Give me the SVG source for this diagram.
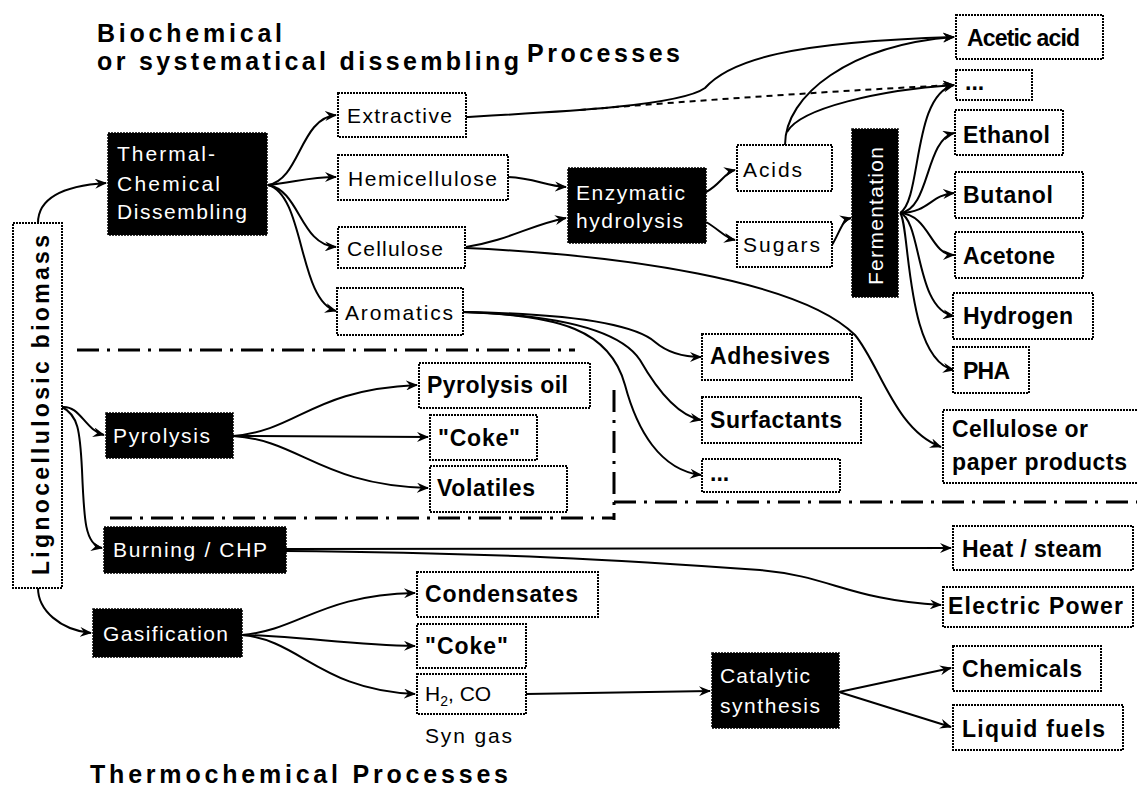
<svg xmlns="http://www.w3.org/2000/svg" width="1137" height="786" viewBox="0 0 1137 786">
<style>
text{font-family:"Liberation Sans",Arial,sans-serif;fill:#000}
.r{font-size:21px}
.b{font-size:23px;font-weight:bold}
.h{font-size:25px;font-weight:bold}
.w{fill:#fff}
.box{fill:#fff;stroke:#000;stroke-width:2;stroke-dasharray:2 1}
.blk{fill:#000;stroke:#000;stroke-width:1.5;stroke-dasharray:2 1}
.c{fill:none;stroke:#000;stroke-width:2;marker-end:url(#ah)}
.d{fill:none;stroke:#000;stroke-width:2;stroke-dasharray:6 5;marker-end:url(#ah)}
.dd{fill:none;stroke:#000;stroke-width:3;stroke-dasharray:22 8 3 8}
</style>
<defs>
<marker id="ah" viewBox="0 0 12 10" refX="11" refY="5" markerWidth="12" markerHeight="10" markerUnits="userSpaceOnUse" orient="auto">
<path d="M0,0 L12,5 L0,10 L4,5 z" fill="#000"/>
</marker>
</defs>
<rect width="1137" height="786" fill="#fff"/>

<g id="titles">
<text class="h" x="97" y="42" textLength="185">Biochemical</text>
<text class="h" x="97" y="70" textLength="422">or systematical dissembling</text>
<text class="h" x="527" y="62" textLength="153">Processes</text>
<text class="h" x="90" y="783" textLength="418">Thermochemical Processes</text>
</g>

<g id="boundaries">
<path class="dd" d="M77,350 L575,350"/>
<path class="dd" d="M110,518 L614,518"/>
<path class="dd" d="M614,390 L614,520"/>
<path class="dd" d="M614,502 L1137,502"/>
</g>

<g id="connectors">
<path class="c" d="M38,223 C38,200 60,186 106,183"/>
<path class="c" d="M268,185 C300,180 300,118 336,115"/>
<path class="c" d="M268,185 C295,182 310,177 336,177"/>
<path class="c" d="M268,185 C300,190 300,245 336,247"/>
<path class="c" d="M268,185 C305,195 298,300 336,311"/>
<path class="c" d="M508,177 C535,178 545,186 566,187"/>
<path class="c" d="M466,247 C510,240 530,225 566,218"/>
<path class="c" d="M466,248 C620,255 800,280 855,335 C880,365 895,430 941,447"/>
<path class="c" d="M466,117 C560,112 680,106 705,88 C730,60 790,42 954,37"/>
<path class="d" d="M580,110 C700,100 850,90 954,85"/>
<path class="c" d="M706,192 C720,185 725,172 735,170"/>
<path class="c" d="M706,222 C720,230 725,238 735,240"/>
<path class="c" d="M785,145 C785,95 850,45 954,37"/>
<path class="c" d="M787,132 C800,108 880,90 954,85"/>
<path class="c" d="M832,245 C840,232 842,220 851,218"/>
<path class="c" d="M900,213 C930,210 925,140 954,133"/>
<path class="c" d="M900,213 C922,200 912,95 954,85"/>
<path class="c" d="M900,213 C930,212 930,195 954,193"/>
<path class="c" d="M900,213 C930,215 930,255 954,255"/>
<path class="c" d="M900,213 C922,220 915,310 954,316"/>
<path class="c" d="M900,213 C910,222 905,360 954,370"/>
<path class="c" d="M463,312 C580,314 635,325 655,342 C668,353 685,357 701,357"/>
<path class="c" d="M463,312 C560,315 620,330 640,360 C660,395 680,416 701,420"/>
<path class="c" d="M463,312 C560,315 610,330 625,385 C637,430 660,470 701,475"/>
<path class="c" d="M62,407 C80,405 85,430 104,435"/>
<path class="c" d="M62,407 C78,415 80,430 82,470 C84,520 85,545 102,548"/>
<path class="c" d="M38,588 C38,610 60,630 91,633"/>
<path class="c" d="M233,436 C300,430 310,390 417,385"/>
<path class="c" d="M233,436 L428,437"/>
<path class="c" d="M233,436 C300,440 320,485 428,488"/>
<path class="c" d="M286,549 L951,548"/>
<path class="c" d="M286,551 C500,553 620,560 760,570 C830,576 850,600 941,605"/>
<path class="c" d="M242,635 C300,630 320,595 415,593"/>
<path class="c" d="M242,635 C300,636 350,645 415,646"/>
<path class="c" d="M242,635 C300,640 320,690 415,694"/>
<path class="c" d="M526,694 L710,691"/>
<path class="c" d="M839,692 L951,668"/>
<path class="c" d="M839,692 L951,727"/>
</g>

<g id="lignocellulosic-biomass">
<rect class="box" x="13" y="223" width="49" height="365"/>
<text class="b" transform="translate(49,405) rotate(-90)" text-anchor="middle" font-size="25" textLength="340">Lignocellulosic biomass</text>
</g>

<g id="thermal-chemical">
<rect class="blk" x="108" y="133" width="159" height="102"/>
<text class="r w" x="117" y="161" textLength="98">Thermal-</text>
<text class="r w" x="117" y="191" textLength="103">Chemical</text>
<text class="r w" x="117" y="219" textLength="130">Dissembling</text>
</g>

<g id="extractive"><rect class="box" x="338" y="93" width="128" height="44"/><text class="r" x="347" y="123" textLength="105">Extractive</text></g>
<g id="hemicellulose"><rect class="box" x="338" y="155" width="170" height="45"/><text class="r" x="348" y="186" textLength="149">Hemicellulose</text></g>
<g id="cellulose"><rect class="box" x="338" y="227" width="127" height="41"/><text class="r" x="347" y="256" textLength="96">Cellulose</text></g>
<g id="aromatics"><rect class="box" x="337" y="288" width="126" height="47"/><text class="r" x="345" y="320" textLength="108">Aromatics</text></g>

<g id="enzymatic-hydrolysis">
<rect class="blk" x="568" y="168" width="138" height="75"/>
<text class="r w" x="576" y="200" textLength="109">Enzymatic</text>
<text class="r w" x="576" y="228" textLength="107">hydrolysis</text>
</g>

<g id="acids"><rect class="box" x="737" y="145" width="95" height="46"/><text class="r" x="743" y="177" textLength="59">Acids</text></g>
<g id="sugars"><rect class="box" x="737" y="222" width="95" height="45"/><text class="r" x="743" y="252" textLength="77">Sugars</text></g>

<g id="fermentation">
<rect class="blk" x="852" y="129" width="46" height="168"/>
<text class="r w" transform="translate(883,216) rotate(-90)" text-anchor="middle" textLength="138">Fermentation</text>
</g>

<g id="acetic-acid"><rect class="box" x="956" y="15" width="147" height="44"/><text class="b" x="967" y="46" textLength="113">Acetic acid</text></g>
<g id="etc-top"><rect class="box" x="956" y="70" width="76" height="30"/><text class="b" x="965" y="90">...</text></g>
<g id="ethanol"><rect class="box" x="955" y="110" width="108" height="45"/><text class="b" x="963" y="143" textLength="87">Ethanol</text></g>
<g id="butanol"><rect class="box" x="955" y="172" width="128" height="46"/><text class="b" x="963" y="203" textLength="90">Butanol</text></g>
<g id="acetone"><rect class="box" x="955" y="232" width="128" height="46"/><text class="b" x="963" y="264" textLength="92">Acetone</text></g>
<g id="hydrogen"><rect class="box" x="953" y="293" width="140" height="46"/><text class="b" x="963" y="324" textLength="110">Hydrogen</text></g>
<g id="pha"><rect class="box" x="953" y="347" width="76" height="46"/><text class="b" x="963" y="379" textLength="47">PHA</text></g>
<g id="cellulose-paper"><rect class="box" x="943" y="410" width="200" height="73"/><text class="b" x="952" y="437" textLength="136">Cellulose or</text><text class="b" x="952" y="470" textLength="175">paper products</text></g>

<g id="adhesives"><rect class="box" x="702" y="334" width="150" height="46"/><text class="b" x="710" y="364" textLength="120">Adhesives</text></g>
<g id="surfactants"><rect class="box" x="702" y="397" width="159" height="46"/><text class="b" x="710" y="428" textLength="132">Surfactants</text></g>
<g id="etc-aromatics"><rect class="box" x="702" y="459" width="138" height="33"/><text class="b" x="710" y="481">...</text></g>

<g id="pyrolysis"><rect class="blk" x="106" y="413" width="127" height="45"/><text class="r w" x="113" y="443" textLength="97">Pyrolysis</text></g>
<g id="pyrolysis-oil"><rect class="box" x="419" y="363" width="171" height="45"/><text class="b" x="427" y="393" textLength="141">Pyrolysis oil</text></g>
<g id="coke-pyrolysis"><rect class="box" x="430" y="415" width="107" height="45"/><text class="b" x="438" y="446" textLength="82">"Coke"</text></g>
<g id="volatiles"><rect class="box" x="430" y="466" width="137" height="46"/><text class="b" x="437" y="496" textLength="98">Volatiles</text></g>

<g id="burning-chp"><rect class="blk" x="104" y="527" width="182" height="46"/><text class="r w" x="113" y="557" textLength="154">Burning / CHP</text></g>
<g id="heat-steam"><rect class="box" x="953" y="526" width="180" height="44"/><text class="b" x="962" y="557" textLength="140">Heat / steam</text></g>
<g id="electric-power"><rect class="box" x="943" y="587" width="190" height="40"/><text class="b" x="948" y="614" textLength="175">Electric Power</text></g>

<g id="gasification"><rect class="blk" x="93" y="609" width="149" height="48"/><text class="r w" x="103" y="641" textLength="125">Gasification</text></g>
<g id="condensates"><rect class="box" x="417" y="572" width="181" height="45"/><text class="b" x="425" y="602" textLength="153">Condensates</text></g>
<g id="coke-gasification"><rect class="box" x="417" y="624" width="109" height="44"/><text class="b" x="425" y="654" textLength="83">"Coke"</text></g>
<g id="syngas"><rect class="box" x="417" y="674" width="109" height="40"/><text class="r" x="425" y="701">H<tspan font-size="14" dy="5">2</tspan><tspan dy="-5">, CO</tspan></text><text class="r" x="425" y="743" font-size="20" textLength="87">Syn gas</text></g>

<g id="catalytic-synthesis">
<rect class="blk" x="712" y="653" width="127" height="75"/>
<text class="r w" x="720" y="683" textLength="90">Catalytic</text>
<text class="r w" x="720" y="713" textLength="100">synthesis</text>
</g>
<g id="chemicals"><rect class="box" x="953" y="646" width="148" height="45"/><text class="b" x="962" y="677" textLength="120">Chemicals</text></g>
<g id="liquid-fuels"><rect class="box" x="953" y="705" width="170" height="45"/><text class="b" x="962" y="737" textLength="143">Liquid fuels</text></g>
</svg>
